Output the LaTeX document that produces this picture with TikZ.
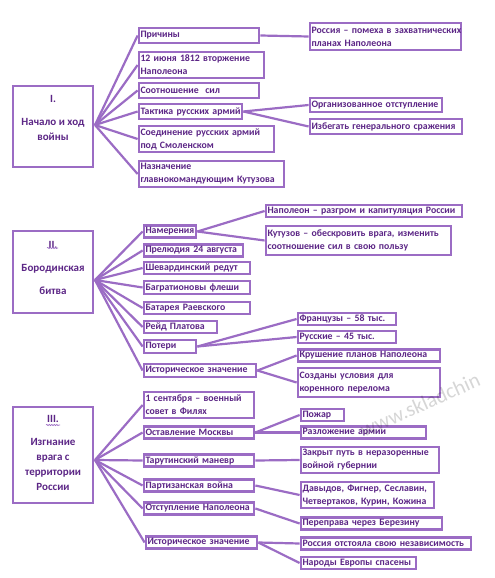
\documentclass[tikz,border=0pt]{standalone}
\usepackage{fontspec}
\setmainfont{Carlito}
\usetikzlibrary{decorations.pathmorphing}
\definecolor{bord}{RGB}{155,108,196}
\definecolor{txt}{RGB}{92,38,134}
\tikzset{
  box/.style={draw=bord, line width=2.2pt, fill=white, inner xsep=1.8pt, inner ysep=0pt,
    align=left, text=txt, font=\fontsize{9.8}{13}\selectfont\bfseries, anchor=center},
  big/.style={draw=bord, line width=2.2pt, fill=white, anchor=center, inner sep=0pt},
  bigtxt/.style={align=center, text=txt, font=\fontsize{11}{15}\selectfont\bfseries, anchor=center, inner sep=0pt},
  conn/.style={draw=bord, line width=2.2pt},
  wave/.style={draw=bord, line width=0.6pt, decorate, decoration={snake, amplitude=0.6pt, segment length=2.5pt}}
}
\newcommand{\bx}[6]{\node[box, minimum width=#3pt, minimum height=#4pt, text width=#5pt] (#1) at #2 {\mbox{#6}};}
\newcommand{\bxx}[7]{\node[box, minimum width=#3pt, minimum height=#4pt, text width=#5pt] (#1) at #2 {\mbox{#6}\\\mbox{#7}};}
\begin{document}
\begin{tikzpicture}[x=1pt,y=-1pt]
\useasboundingbox (0,0) rectangle (495,578);
% ---------- Section I ----------
\node[big, minimum width=80pt, minimum height=81pt] (A0) at (53,126.5) {};
\node[bigtxt] (A0t) at (53,118) {I.\\[8pt]Начало и ход\\войны};
\bx{a1}{(199,35.5)}{120}{15}{117}{Причины}
\bxx{a2}{(201.5,65)}{125}{26}{122}{12 июня 1812 вторжение}{Наполеона}
\bx{a3}{(199,90.5)}{120}{15}{117}{Соотношение\ \ сил}
\bx{a4}{(190.5,111.5)}{103}{15}{100}{Тактика русских армий}
\bxx{a5}{(206.5,139)}{135}{26}{132}{Соединение русских армий}{под Смоленском}
\bxx{a6}{(211.5,174)}{145}{26}{142}{Назначение}{главнокомандующим Кутузова}
\bxx{r1}{(385.5,36.5)}{151}{27}{148}{Россия – помеха в захватнических}{планах Наполеона}
\bx{r2}{(376,105)}{132}{14}{129}{Организованное отступление}
\bx{r3}{(386,126.5)}{152}{15}{149}{Избегать генерального сражения}
\coordinate (ci) at (95,125);
\foreach \n in {a1,a2,a3,a4,a5,a6} \draw[conn] (ci) -- (\n.west);
\draw[conn] (a1.east) -- (r1.west);
\draw[conn] (a4.east) -- (r2.west);
\draw[conn] (a4.east) -- (r3.west);
% ---------- Section II ----------
\node[big, minimum width=80pt, minimum height=82pt] (B0) at (53,272) {};
\node[bigtxt] (B0t) at (53,268) {II.\\[8pt]Бородинская\\[8pt]битва};
\draw[wave] (47,248) -- (58,248);
\bx{b1}{(170,231.5)}{52}{12}{49}{Намерения}
\bx{b2}{(193.5,250.5)}{99}{12}{96}{Прелюдия 24 августа}
\bx{b3}{(197,268)}{106}{12}{103}{Шевардинский редут}
\bx{b4}{(197,287.5)}{106}{13}{103}{Багратионовы флеши}
\bx{b5}{(197,308)}{106}{12}{103}{Батарея Раевского}
\bx{b6}{(180.5,327)}{73}{12}{70}{Рейд Платова}
\bx{b7}{(170,346.5)}{52}{13}{49}{Потери}
\bx{b8}{(200,370.5)}{112}{13}{109}{Историческое значение}
\bx{rb1}{(364,211)}{196}{12}{193}{Наполеон – разгром и капитуляция России}
\bxx{rb2}{(358.5,240.5)}{185}{29}{182}{Кутузов – обескровить врага, изменить}{соотношение сил в свою пользу}
\bx{rb3}{(347,319)}{98}{12}{95}{Французы – 58 тыс.}
\bx{rb4}{(347,337)}{98}{12}{95}{Русские – 45 тыс.}
\bx{rb5}{(369,355.5)}{142}{12}{139}{Крушение планов Наполеона}
\bxx{rb6}{(369,382.5)}{142}{29}{139}{Созданы условия для}{коренного перелома}
\coordinate (cii) at (95,280);
\foreach \n in {b1,b2,b3,b4,b5,b6,b7,b8} \draw[conn] (cii) -- (\n.west);
\draw[conn] (b1.east) -- (rb1.west);
\draw[conn] (b1.east) -- (rb2.west);
\draw[conn] (b7.east) -- (rb3.west);
\draw[conn] (b7.east) -- (rb4.west);
\draw[conn] (b8.east) -- (rb5.west);
\draw[conn] (b8.east) -- (rb6.west);
% ---------- Section III ----------
\node[big, minimum width=80pt, minimum height=96pt] (C0) at (53,455) {};
\node[bigtxt] (C0t) at (53,453) {III.\\[8pt]Изгнание\\врага с\\территории\\России};
\draw[wave] (46,425) -- (60,425);
\bxx{c1}{(199,405)}{110}{26}{107}{1 сентября – военный}{совет в Филях}
\bx{c2}{(199,432.5)}{110}{12}{107}{Оставление Москвы}
\bx{c3}{(199,460.5)}{110}{12}{107}{Тарутинский маневр}
\bx{c4}{(199,485.5)}{110}{12}{107}{Партизанская война}
\bx{c5}{(199,508.5)}{110}{12}{107}{Отступление Наполеона}
\bx{c6}{(201.5,542.5)}{111}{12}{108}{Историческое значение}
\bx{rc1}{(322.5,415)}{43}{12}{40}{Пожар}
\bx{rc2}{(363.5,432.5)}{125}{12}{122}{Разложение армии}
\bxx{rc3}{(370,460)}{138}{26}{135}{Закрыт путь в неразоренные}{войной губернии}
\bxx{rc4}{(367.5,495)}{133}{26}{130}{Давыдов, Фигнер, Сеславин,}{Четвертаков, Курин, Кожина}
\bx{rc5}{(371.5,523.5)}{141}{12}{138}{Переправа через Березину}
\bx{rc6}{(386,543.5)}{170}{12}{167}{Россия отстояла свою независимость}
\bx{rc7}{(358.5,563)}{115}{12}{112}{Народы Европы спасены}
\coordinate (ciii) at (95,460);
\foreach \n in {c1,c2,c3,c4,c5,c6} \draw[conn] (ciii) -- (\n.west);
\draw[conn] (c2.east) -- (rc1.west);
\draw[conn] (c2.east) -- (rc2.west);
\draw[conn] (c3.east) -- (rc3.west);
\draw[conn] (c4.east) -- (rc4.west);
\draw[conn] (c5.east) -- (rc5.west);
\draw[conn] (c6.east) -- (rc6.west);
\draw[conn] (c6.east) -- (rc7.west);
% watermark
\node[rotate=24, text=black, opacity=0.16, font=\fontsize{21}{21}\selectfont] (wm) at (420,405) {www.skladchin};
\end{tikzpicture}
\end{document}
